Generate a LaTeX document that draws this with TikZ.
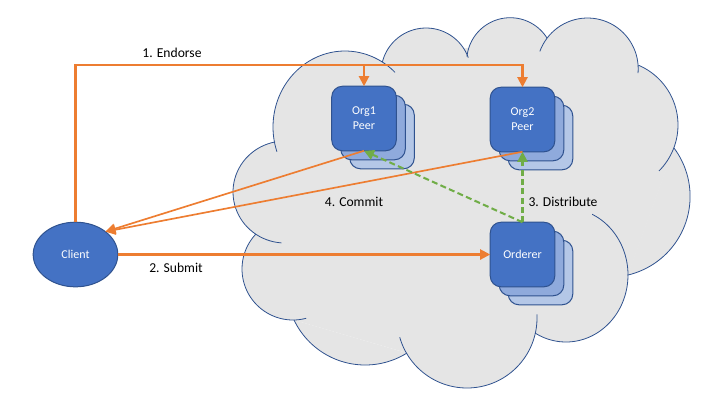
\documentclass[tikz,border=0pt]{standalone}
\usepackage{fontspec}
\setmainfont{Carlito}
\usetikzlibrary{arrows.meta, shapes.geometric}

\definecolor{cloudgray}{HTML}{E5E5E5}
\definecolor{boxblue}{HTML}{4472C4}
\definecolor{boxedge}{HTML}{2F528F}
\definecolor{boxmid}{HTML}{8FAADC}
\definecolor{boxlight}{HTML}{B4C7E7}
\definecolor{wireorange}{HTML}{ED7D31}
\definecolor{wiregreen}{HTML}{70AD47}

\tikzset{
	peerbox/.style = {draw = boxedge, line width = 0.75pt, fill = boxblue, rounded corners = 8pt, minimum size = 48.4pt, inner sep = 0pt, outer sep = 0pt, align = center, text = white, font = \fontsize{9}{11.3}\selectfont},
	peermid/.style = {peerbox, fill = boxmid},
	peerlight/.style = {peerbox, fill = boxlight},
	clientnode/.style = {ellipse, draw = boxedge, line width = 0.75pt, fill = boxblue, minimum width = 63.5pt, minimum height = 48.5pt, inner sep = 0pt, outer sep = 0pt, text = white, font = \fontsize{9}{11}\selectfont},
	steplabel/.style = {inner sep = 0pt, font = \fontsize{10.2}{12}\selectfont},
	orangewire/.style = {draw = wireorange, line width = 1.52pt, -{Triangle[length = 7.5pt, width = 7.5pt]}},
	commitwire/.style = {draw = wireorange, line width = 1.25pt, -{Triangle[length = 7.5pt, width = 7.5pt]}},
	greenwire/.style = {draw = wiregreen, line width = 1.52pt, dash pattern = on 4.5pt off 2.5pt, -{Triangle[length = 7.5pt, width = 7.5pt]}},
	cloudline/.style = {draw = boxedge, line width = 0.6pt}
}

% Cloud lobes: centre x / centre y / radius x / radius y / from / to
\newcommand{\cloudlobes}{
	345/127/72/76/46/199, 426/73/45/45/20/166, 510.2/61.2/43.5/43.5/32/174,
	587.5/68.7/50.7/50.7/-5/160, 613/125/65/65/-45/67, 609.3/196.4/80.8/80.8/-77/37,
	566/275/62/67/-120/65, 467/318/70/70/196/363, 365.2/286.2/78.8/78.8/-154.6/-58,
	293/269/51/51/137/285, 285/192/52/51/101/266}

\begin{document}

\begin{tikzpicture}[x = 0.75pt, y = -0.75pt]

	\useasboundingbox (0, 0) rectangle (720, 405);

	% Cloud

	\fill[cloudgray] (275, 141) -- (382, 62) -- (467, 48) -- (547, 38) -- (638, 65) -- (674, 148) -- (628, 275) -- (535, 332) -- (407, 353) -- (294, 320) -- (255, 234) -- cycle;
	\foreach \cx/\cy/\rx/\ry/\from/\upto in \cloudlobes
		\fill[cloudgray] plot[domain = \from:\upto, samples = 40, smooth] ({\cx + \rx * cos(\x)}, {\cy - \ry * sin(\x)});
	\foreach \cx/\cy/\rx/\ry/\from/\upto in \cloudlobes
		\path[cloudline] plot[domain = \from:\upto, samples = 40, smooth] ({\cx + \rx * cos(\x)}, {\cy - \ry * sin(\x)});

	% Peers and orderer

	\node[peerlight] (org1back) at (382, 136.5) {};
	\node[peermid] (org1mid) at (373, 127.5) {};
	\node[peerbox] (org1) at (364, 118.5) {Org1\\Peer};

	\node[peerlight] (org2back) at (540.5, 137.5) {};
	\node[peermid] (org2mid) at (531.5, 128.5) {};
	\node[peerbox] (org2) at (522.5, 119.5) {Org2\\Peer};

	\node[peerlight] (ordererback) at (540.5, 272.5) {};
	\node[peermid] (orderermid) at (531.5, 263.5) {};
	\node[peerbox] (orderer) at (522.5, 254.5) {Orderer};

	\node[clientnode] (client) at (75.5, 254.5) {Client};

	% Wires

	\coordinate (endorseone) at (364, 65);
	\coordinate (endorsetwo) at (522.5, 65);

	\draw[orangewire] (client.north) |- (endorseone) -- (org1.north);
	\draw[orangewire] (client.north) |- (endorsetwo) -- (org2.north);
	\draw[orangewire] (client.east) -- (orderer.west);
	\draw[commitwire] (org1.south) -- (client.north east);
	\draw[commitwire] (org2.south) -- (client.north east);
	\draw[greenwire] (orderer.north) -- (org1.south);
	\draw[greenwire] (orderer.north) -- (org2.south);

	% Step labels

	\node[steplabel] (endorselabel) at (172, 53) {1. Endorse};
	\node[steplabel] (submitlabel) at (176, 268) {2. Submit};
	\node[steplabel] (distributelabel) at (563, 202) {3. Distribute};
	\node[steplabel] (commitlabel) at (354, 202) {4. Commit};

\end{tikzpicture}

\end{document}
